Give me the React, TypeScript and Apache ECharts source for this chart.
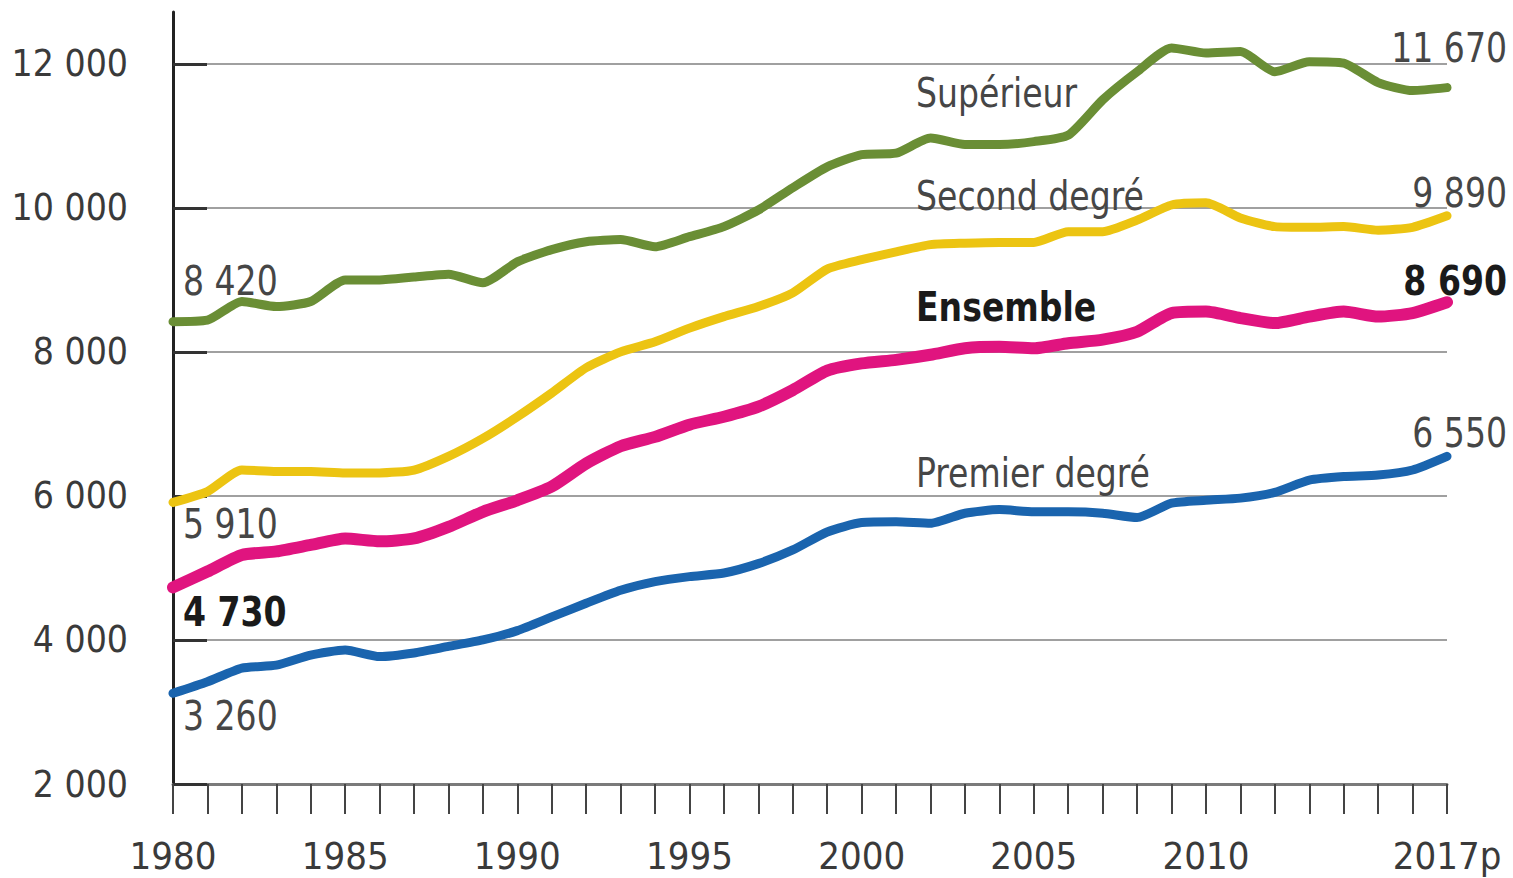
import React, { useEffect, useRef } from "react";
import * as echarts from "echarts";

const years = [
  "1980","1981","1982","1983","1984","1985","1986","1987","1988","1989",
  "1990","1991","1992","1993","1994","1995","1996","1997","1998","1999",
  "2000","2001","2002","2003","2004","2005","2006","2007","2008","2009",
  "2010","2011","2012","2013","2014","2015","2016","2017p",
];

const superieur = [
  8420, 8440, 8700, 8630, 8700, 9000, 9000, 9040, 9080, 8960,
  9250, 9420, 9530, 9560, 9460, 9600, 9740, 9970, 10280, 10570,
  10740, 10760, 10970, 10880, 10880, 10920, 11010, 11500, 11890, 12220,
  12150, 12170, 11890, 12030, 12010, 11740, 11630, 11670,
];

const secondDegre = [
  5910, 6060, 6360, 6340, 6340, 6320, 6320, 6360, 6550, 6800,
  7100, 7430, 7780, 8000, 8140, 8330, 8490, 8630, 8820, 9150,
  9280, 9390, 9490, 9510, 9520, 9520, 9670, 9670, 9830, 10040,
  10070, 9860, 9740, 9730, 9740, 9690, 9730, 9890,
];

const ensemble = [
  4730, 4950, 5180, 5230, 5320, 5410, 5370, 5410, 5570, 5780,
  5940, 6130, 6450, 6690, 6820, 6990, 7100, 7240, 7470, 7740,
  7840, 7890, 7960, 8050, 8070, 8050, 8120, 8170, 8280, 8540,
  8560, 8470, 8400, 8490, 8560, 8490, 8540, 8690,
];

const premierDegre = [
  3260, 3420, 3610, 3650, 3790, 3860, 3770, 3820, 3910, 4000,
  4130, 4320, 4510, 4690, 4810, 4880, 4930, 5060, 5250, 5500,
  5630, 5640, 5620, 5760, 5810, 5780, 5780, 5760, 5700, 5900,
  5940, 5970, 6050, 6220, 6270, 6290, 6360, 6550,
];

const yTicks = [2000, 4000, 6000, 8000, 10000, 12000];

const FONT = "'Liberation Sans Narrow', 'DejaVu Sans Condensed', 'Roboto Condensed', 'Liberation Sans', sans-serif";

const fmt = (v: number) => String(v).replace(/\B(?=(\d{3})+(?!\d))/g, " ");

export default function App() {
  const ref = useRef<HTMLDivElement>(null);
  useEffect(() => {
    if (!ref.current) return;
    const chart = echarts.init(ref.current, null, { renderer: "svg" });

    const txt = (
      text: string,
      x: number,
      y: number,
      opts: { align?: string; bold?: boolean; color?: string } = {}
    ) => ({
      type: "text",
      x,
      y,
      scaleX: 0.92,
      z: 100,
      style: {
        text,
        fill: opts.color || "#464646",
        fontSize: 40,
        fontFamily: FONT,
        fontWeight: opts.bold ? "bold" : "normal",
        align: opts.align || "left",
        verticalAlign: "middle",
      },
    });

    const lineSeries = (name: string, data: number[], color: string, width: number) => ({
      name,
      type: "line",
      data,
      symbol: "none",
      smooth: 0.2,
      lineStyle: { color, width, join: "round", cap: "round" },
      z: 3,
    });

    chart.setOption({
      animation: false,
      backgroundColor: "#ffffff",
      grid: { left: 173, right: 66, top: 12, bottom: 94, containLabel: false },
      xAxis: {
        type: "category",
        data: years,
        boundaryGap: false,
        axisLine: { show: true, lineStyle: { color: "#7a7a7a", width: 3 } },
        axisTick: {
          show: true,
          inside: false,
          length: 30,
          interval: 0,
          lineStyle: { color: "#444", width: 2 },
        },
        axisLabel: {
          show: true,
          interval: (i: number) => (i % 5 === 0 && i < 35) || i === 37,
          color: "#3a3a3a",
          fontSize: 38,
          fontFamily: FONT,
          margin: 53,
        },
        splitLine: { show: false },
      },
      yAxis: {
        type: "value",
        min: 2000,
        max: 12720,
        interval: 2000,
        axisLine: { show: true, lineStyle: { color: "#222", width: 3 } },
        axisTick: {
          show: true,
          inside: true,
          length: 34,
          customValues: yTicks,
          lineStyle: { color: "#333", width: 3 },
        },
        axisLabel: {
          show: true,
          customValues: yTicks,
          formatter: (v: number) => fmt(v),
          color: "#3a3a3a",
          fontSize: 37,
          fontFamily: FONT,
          margin: 45,
        },
        splitLine: { show: true, lineStyle: { color: "#a0a0a0", width: 2 } },
      },
      series: [
        lineSeries("Supérieur", superieur, "#6a8e35", 9),
        lineSeries("Second degré", secondDegre, "#ecc412", 9),
        lineSeries("Premier degré", premierDegre, "#1a64ae", 9),
        lineSeries("Ensemble", ensemble, "#e0147f", 12),
      ],
      graphic: [
        txt(fmt(superieur[0]), 183, 281),
        txt(fmt(secondDegre[0]), 183, 524),
        txt(fmt(ensemble[0]), 183, 612, { bold: true, color: "#1a1a1a" }),
        txt(fmt(premierDegre[0]), 183, 716),
        txt(fmt(superieur[superieur.length - 1]), 1507, 48, { align: "right" }),
        txt(fmt(secondDegre[secondDegre.length - 1]), 1507, 193, { align: "right" }),
        txt(fmt(ensemble[ensemble.length - 1]), 1507, 281, { align: "right", bold: true, color: "#1a1a1a" }),
        txt(fmt(premierDegre[premierDegre.length - 1]), 1507, 433, { align: "right" }),
        txt("Supérieur", 916, 93),
        txt("Second degré", 916, 196),
        txt("Ensemble", 916, 307, { bold: true, color: "#1a1a1a" }),
        txt("Premier degré", 916, 473),
      ],
    });

    return () => chart.dispose();
  }, []);

  return (
    <div
      ref={ref}
      style={{ position: "fixed", left: 0, top: 0, width: 1513, height: 878 }}
    />
  );
}
